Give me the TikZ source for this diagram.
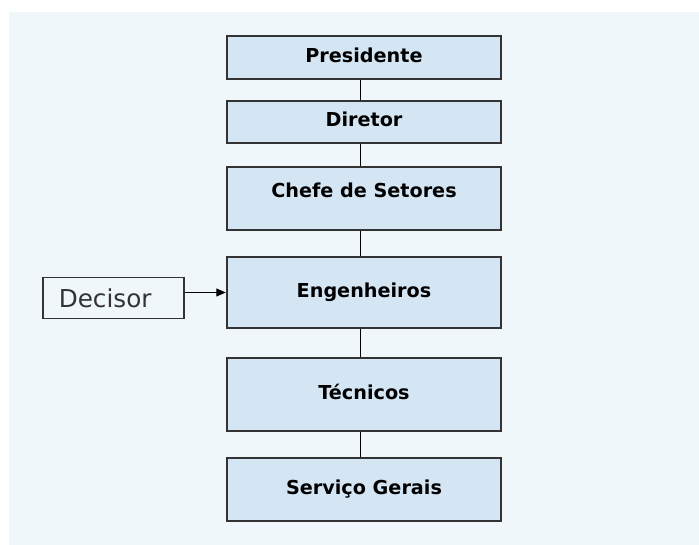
\documentclass[tikz,border=0pt]{standalone}
\usepackage{fontspec}
\setmainfont{DejaVu Sans}
\usepackage{xcolor}
\usepackage{tikz}
\usetikzlibrary{arrows.meta}
\definecolor{panel}{RGB}{239, 247, 251}
\definecolor{boxfill}{RGB}{212, 229, 243}
\definecolor{boxline}{RGB}{51, 51, 51}

\tikzset{
  levelbox/.style={draw=boxline, line width=1.5pt, fill=boxfill, minimum width=206pt, inner sep=0pt,
    font=\bfseries\fontsize{14.4}{17}\selectfont, text height=10.5pt, text depth=3pt},
  sidebox/.style={draw=boxline, line width=1.1pt, fill=panel, minimum width=106pt, minimum height=31pt,
    inner xsep=12pt, text width=82pt, align=left, text=boxline, font=\fontsize{18.5}{22}\selectfont},
}

\begin{document}
\begin{tikzpicture}[x=0.75pt,y=0.75pt,yscale=-1,xscale=1]
\useasboundingbox (0,0) rectangle (699,545);

%Background panel
\fill [panel] (9,12) rectangle (699,545);

% Level boxes
\node [levelbox, minimum height=32pt] (pres) at (364,57.5) {Presidente};
\node [levelbox, minimum height=31.5pt] (dir) at (364,122) {Diretor};
\node [levelbox, minimum height=47pt, text depth=11.6pt] (chefe) at (364,198.5) {Chefe de Setores};
\node [levelbox, minimum height=53pt] (eng) at (364,292.5) {Engenheiros};
\node [levelbox, minimum height=55pt] (tec) at (364,394.5) {Técnicos};
\node [levelbox, minimum height=47pt] (serv) at (364,489.5) {Serviço Gerais};

% Side box
\node [sidebox] (dec) at (113.5,298) {Decisor};

%Straight Lines
\draw [line width=0.75pt] (pres.south -| 360,0) -- (dir.north -| 360,0);
\draw [line width=0.75pt] (dir.south -| 360,0) -- (chefe.north -| 360,0);
\draw [line width=0.75pt] (chefe.south -| 360,0) -- (eng.north -| 360,0);
\draw [line width=0.75pt] (eng.south -| 360,0) -- (tec.north -| 360,0);
\draw [line width=0.75pt] (tec.south -| 360,0) -- (serv.north -| 360,0);

%Arrow
\draw [line width=0.75pt, -{Triangle[length=7pt,width=6pt]}] (dec.east |- eng.west) -- (eng.west);

\end{tikzpicture}
\end{document}
